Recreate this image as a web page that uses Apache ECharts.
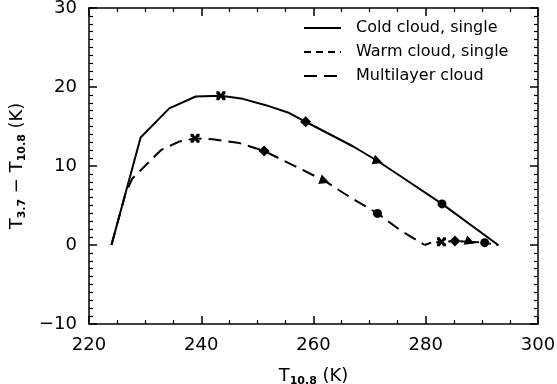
<!DOCTYPE html>
<html>
<head>
<meta charset="utf-8">
<script src="https://cdn.jsdelivr.net/npm/echarts@6/dist/echarts.min.js"></script>
<style>
  html, body { margin: 0; padding: 0; background: #fff; }
  #chart { width: 557px; height: 384px; }
</style>
</head>
<body>
<div id="chart"></div>
<script>
// T10.8 (K) vs T3.7 - T10.8 (K)
var coldT = [224, 229.2, 234.3, 239, 243.5, 247.4, 251.5, 255.7, 258.6, 267, 271.5, 276.6, 282.9, 292.9];
var coldD = [0, 13.6, 17.3, 18.8, 18.9, 18.5, 17.7, 16.7, 15.6, 12.5, 10.6, 8.2, 5.2, 0];
var coldMark = ['', '', '', '', 'x', '', '', '', 'diamond', '', 'tri', '', 'circle', ''];

var multiT = [224, 226.5, 227.7, 232.8, 236.1, 238.9, 242, 246.8, 251.2, 257.5, 262, 266.4, 271.4, 275.4, 279.8];
var multiD = [0, 6.5, 8.4, 12.0, 13.1, 13.5, 13.4, 12.9, 11.9, 9.7, 8.1, 6.1, 4.0, 1.9, 0];
var multiMark = ['', '', '', '', '', 'x', '', '', 'diamond', '', 'tri', '', 'circle', '', ''];

var warmT = [279.8, 281, 282.8, 285.2, 287.9, 290.5, 293];
var warmD = [0, 0.3, 0.4, 0.5, 0.4, 0.3, 0];
var warmMark = ['', '', 'x', 'diamond', 'tri', 'circle', ''];

var seriesNames = ['Cold cloud, single', 'Warm cloud, single', 'Multilayer cloud'];

var xPath = 'path://M0,0L3,0L5,3L7,0L10,0L10,3L7,5L10,7L10,10L7,10L5,7L3,10L0,10L0,7L3,5L0,3Z';
var symbolFor = { x: xPath, diamond: 'diamond', tri: 'triangle', circle: 'circle' };
var sizeFor = { x: 9, diamond: 11, tri: 10, circle: 9 };

function pairs(xs, ys) {
  var out = [];
  for (var i = 0; i < xs.length; i++) {
    out.push([xs[i], ys[i]]);
  }
  return out;
}

function makeSeries(name, xs, ys, marks, dash) {
  return {
    name: name,
    type: 'line',
    data: pairs(xs, ys),
    showSymbol: true,
    symbol: function (value, params) {
      var m = marks[params.dataIndex];
      return m ? symbolFor[m] : 'none';
    },
    symbolSize: function (value, params) {
      var m = marks[params.dataIndex];
      return m ? sizeFor[m] : 0;
    },
    symbolRotate: function (value, params) {
      return marks[params.dataIndex] === 'tri' ? -110 : 0;
    },
    itemStyle: { color: '#000' },
    lineStyle: { color: '#000', width: 2, type: dash },
    animation: false,
  };
}

var font = 'DejaVu Sans';
var tickStyle = { show: true, inside: true, length: 8, lineStyle: { color: '#000', width: 1.5 } };
var minorStyle = { show: true, length: 4, lineStyle: { color: '#000', width: 1.2 } };
var lineStyle = { show: true, onZero: false, lineStyle: { color: '#000', width: 1.5 } };

var chart = echarts.init(document.getElementById('chart'));
var option = {
  backgroundColor: '#fff',
  animation: false,
  grid: { left: 89, right: 19, top: 8, bottom: 60, containLabel: false, outerBoundsMode: 'none' },
  legend: {
    orient: 'vertical',
    left: 298,
    top: 15,
    itemWidth: 37,
    itemHeight: 14,
    itemGap: 8,
    itemStyle: { opacity: 0 },
    textStyle: { fontFamily: font, fontSize: 16, color: '#000', padding: [0, 0, 0, 10] },
    data: seriesNames,
  },
  xAxis: [
    {
      type: 'value', min: 220, max: 300, interval: 20, position: 'bottom',
      name: '{a|T}{s|10.8}{a| (K)}',
      nameLocation: 'middle', nameGap: 42,
      nameTextStyle: {
        rich: {
          a: { fontFamily: font, fontSize: 18, color: '#000' },
          s: { fontFamily: font, fontSize: 11, color: '#000', fontWeight: 'bold', padding: [10, 0, 0, 0] },
        },
      },
      axisLine: lineStyle, axisTick: tickStyle,
      minorTick: Object.assign({ splitNumber: 4 }, minorStyle),
      splitLine: { show: false },
      axisLabel: { fontFamily: font, fontSize: 18, color: '#000', margin: 12 },
    },
    {
      type: 'value', min: 220, max: 300, interval: 20, position: 'top',
      axisLine: lineStyle, axisTick: tickStyle,
      minorTick: Object.assign({ splitNumber: 4 }, minorStyle),
      splitLine: { show: false }, axisLabel: { show: false },
    },
  ],
  yAxis: [
    {
      type: 'value', min: -10, max: 30, interval: 10, position: 'left',
      name: '{a|T}{s|3.7}{a| − T}{s|10.8}{a| (K)}',
      nameLocation: 'middle', nameGap: 56,
      nameTextStyle: {
        rich: {
          a: { fontFamily: font, fontSize: 18, color: '#000' },
          s: { fontFamily: font, fontSize: 11, color: '#000', fontWeight: 'bold', padding: [10, 0, 0, 0] },
        },
      },
      axisLine: lineStyle, axisTick: tickStyle,
      minorTick: Object.assign({ splitNumber: 10 }, minorStyle),
      splitLine: { show: false },
      axisLabel: {
        fontFamily: font, fontSize: 18, color: '#000', margin: 12,
        formatter: function (v) { return v < 0 ? '−' + Math.abs(v) : '' + v; },
      },
    },
    {
      type: 'value', min: -10, max: 30, interval: 10, position: 'right',
      axisLine: lineStyle, axisTick: tickStyle,
      minorTick: Object.assign({ splitNumber: 10 }, minorStyle),
      splitLine: { show: false }, axisLabel: { show: false },
    },
  ],
  series: [
    makeSeries(seriesNames[0], coldT, coldD, coldMark, 'solid'),
    makeSeries(seriesNames[1], warmT, warmD, warmMark, [7, 5]),
    makeSeries(seriesNames[2], multiT, multiD, multiMark, [13, 7]),
  ],
};
chart.setOption(option);
</script>
</body>
</html>
